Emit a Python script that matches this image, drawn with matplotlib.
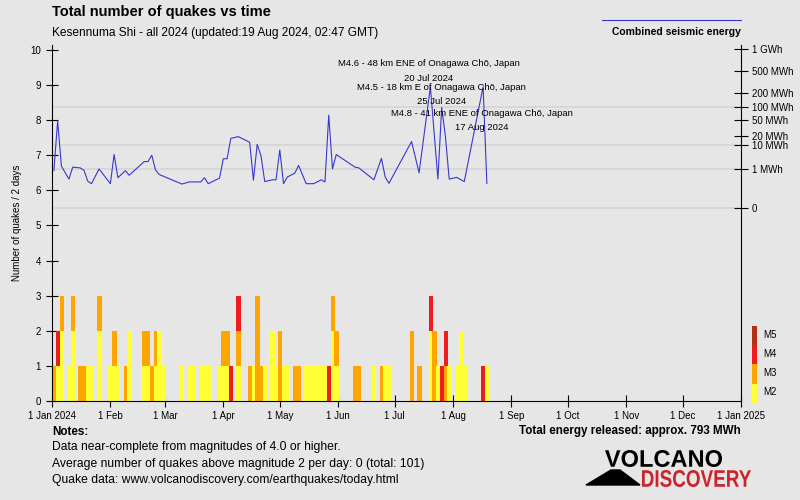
import numpy as np
import matplotlib.pyplot as plt
from matplotlib.lines import Line2D
from matplotlib.patches import Polygon, PathPatch
from matplotlib.textpath import TextPath
from matplotlib.font_manager import FontProperties
from matplotlib.transforms import Affine2D

plt.rcParams['font.family'] = ['Liberation Sans', 'DejaVu Sans']

# quake bins: start day (days since 1 Jan 2024), magnitude classes stacked bottom -> top
bin_days = [0, 2, 4, 8, 10, 14, 16, 18, 20, 24, 30, 32, 34, 38, 40, 48, 50, 52, 54, 56,
            58, 68, 72, 74, 78, 80, 82, 88, 90, 92, 94, 98, 104, 106, 108, 110, 112, 116,
            118, 120, 122, 124, 128, 130, 134, 136, 138, 140, 142, 144, 146, 148, 150,
            160, 162, 170, 174, 176, 178, 190, 194, 200, 202, 204, 206, 208, 210, 214,
            216, 218, 228, 230]
bin_mags = ["3", "24", "223", "2", "223", "3", "3", "2", "2", "223", "2", "23", "2", "3", "22",
            "23", "23", "3", "23", "22", "2", "2", "2", "2", "2", "2", "2", "2", "23", "23",
            "4", "234", "3", "2", "333", "3", "2", "22", "2", "33", "2", "2", "3", "3", "2",
            "2", "2", "2", "2", "2", "4", "223", "23", "3", "3", "2", "3", "2", "2", "33",
            "3", "224", "33", "2", "4", "34", "2", "2", "22", "2", "4", "2"]

# combined seismic energy line (in left-axis units)
energy_days = [1, 3, 5, 9, 11, 15, 17, 19, 21, 25, 31, 33, 35, 39, 41, 49, 51, 53, 55, 57,
               69, 73, 79, 81, 83, 89, 91, 93, 95, 99, 105, 107, 109, 111, 113, 117, 119,
               121, 123, 125, 129, 131, 135, 139, 143, 145, 147, 149, 151, 161, 163, 171,
               175, 177, 179, 191, 195, 201, 205, 207, 209, 211, 215, 219, 229, 231]
energy_vals = [6.56, 7.98, 6.69, 6.32, 6.66, 6.64, 6.57, 6.26, 6.19, 6.61, 6.19, 7.02, 6.36,
               6.56, 6.43, 6.82, 6.82, 7.0, 6.58, 6.45, 6.18, 6.24, 6.24, 6.36, 6.19, 6.35,
               6.9, 6.9, 7.48, 7.53, 7.37, 6.29, 7.31, 6.99, 6.25, 6.30, 6.30, 7.15, 6.19,
               6.38, 6.49, 6.71, 6.19, 6.19, 6.30, 6.24, 8.14, 6.61, 7.02, 6.66, 6.64, 6.30,
               6.91, 6.38, 6.20, 7.39, 6.50, 8.95, 6.32, 8.36, 7.53, 6.32, 6.37, 6.25, 8.95,
               6.20]

energy_labels = ['1 GWh', '500 MWh', '200 MWh', '100 MWh', '50 MWh', '20 MWh', '10 MWh',
                 '1 MWh', '0']
energy_pos = [10.03, 9.40, 8.77, 8.38, 8.01, 7.55, 7.29, 6.61, 5.50]
grid_labels = ['100 MWh', '10 MWh', '1 MWh', '0']

events = [(200.2, 9.6, 'M4.6 - 48 km ENE of Onagawa Chō, Japan', '20 Jul 2024'),
          (207.0, 8.92, 'M4.5 - 18 km E of Onagawa Chō, Japan', '25 Jul 2024'),
          (228.4, 8.2, 'M4.8 - 41 km ENE of Onagawa Chō, Japan', '17 Aug 2024')]

mag_colors = {'2': '#ffff33', '3': '#ffa500', '4': '#ee1c1c', '5': '#b03018'}
bg = '#e6e6e6'

fig = plt.figure(figsize=(8, 5), dpi=100, facecolor=bg)
ax = fig.add_axes([0.065, 0.198, 0.86125, 0.712])
ax.set_facecolor(bg)

for lab, pos in zip(energy_labels, energy_pos):
    if lab in grid_labels:
        ax.axhline(pos, color='#d6d6d6', lw=1.3, zorder=0)

for d, seq in zip(bin_days, bin_mags):
    for k, m in enumerate(seq):
        ax.bar(d, 1, bottom=k, width=2.3, align='edge', color=mag_colors[m], lw=0, zorder=2)

ax.plot(energy_days, energy_vals, color='#3838cc', lw=0.8, zorder=3)

for x, y, t1, t2 in events:
    ax.text(x, y, t1, ha='center', va='center', fontsize=6.8, zorder=4)
    ax.text(x, y - 0.4, t2, ha='center', va='center', fontsize=6.8, zorder=4)

ax.set_xlim(0, 366)
ax.set_ylim(0, 10.14)
ax.set_yticks(range(0, 11))
ax.tick_params(axis='y', direction='inout', length=8, labelsize=7, pad=4)

start = np.datetime64('2024-01-01')
months = np.arange(np.datetime64('2024-01'), np.datetime64('2025-02'), dtype='datetime64[M]')
mdays = (months.astype('datetime64[D]') - start).astype(int)
mlabels = [f"1 {m.astype(object).strftime('%b')}" for m in months]
mlabels[0] = '1 Jan 2024'
mlabels[-1] = '1 Jan 2025'
ax.set_xticks(mdays)
ax.set_xticklabels(mlabels)
ax.tick_params(axis='x', direction='inout', length=8, labelsize=7, pad=3)
ax.spines['top'].set_visible(False)
ax.spines['right'].set_visible(False)
ax.set_ylabel('Number of quakes / 2 days', fontsize=7, labelpad=6)

ax2 = ax.twinx()
ax2.set_ylim(ax.get_ylim())
ax2.set_yticks(energy_pos)
ax2.set_yticklabels(energy_labels)
ax2.tick_params(axis='y', direction='inout', length=10, labelsize=7, pad=3)
for s in ['top', 'left', 'bottom']:
    ax2.spines[s].set_visible(False)

# magnitude colour key
lax = fig.add_axes([752 / 800, (500 - 402.7) / 500, 5 / 800, 76.7 / 500])
for i, m in enumerate(['2', '3', '4', '5']):
    lax.bar(0, 1, bottom=i, width=1, color=mag_colors[m], lw=0)
lax.set_xlim(-0.5, 0.5)
lax.set_ylim(0, 4)
lax.axis('off')
for i, m in enumerate(['2', '3', '4', '5']):
    fig.text(763 / 800, (500 - 392 + 19 * i) / 500, f'M{m}', fontsize=7, va='center')

fig.text(52 / 800, (500 - 12) / 500, 'Total number of quakes vs time', fontsize=10.5,
         fontweight='bold', va='center')
fig.text(52 / 800, (500 - 33) / 500, 'Kesennuma Shi - all 2024 (updated:19 Aug 2024, 02:47 GMT)',
         fontsize=8.6, va='center')
fig.add_artist(Line2D([602 / 800, 741 / 800], [480 / 500, 480 / 500], color='#3333cc', lw=0.8))
fig.text(741 / 800, (500 - 32) / 500, 'Combined seismic energy', fontsize=7.5,
         fontweight='bold', ha='right', va='center')

fig.text(52 / 800, (500 - 432) / 500, 'Notes:', fontsize=8.4, fontweight='bold', va='center')
notes = ['Data near-complete from magnitudes of 4.0 or higher.',
         'Average number of quakes above magnitude 2 per day: 0 (total: 101)',
         'Quake data: www.volcanodiscovery.com/earthquakes/today.html']
for i, n in enumerate(notes):
    fig.text(52 / 800, (500 - 447 - 16.5 * i) / 500, n, fontsize=8.7, va='center')
fig.text(741 / 800, (500 - 431) / 500, 'Total energy released: approx. 793 MWh', fontsize=8.4,
         fontweight='bold', ha='right', va='center')


# logo: text squeezed into a pixel box (x0, y0 top-left in image pixels)
def logo_word(word, x0, x1, ytop, ybot, color):
    tp = TextPath((0, 0), word, size=20, prop=FontProperties(family='Liberation Sans',
                                                             weight='bold'))
    ext = tp.get_extents()
    sx = (x1 - x0) / ext.width
    sy = (ybot - ytop) / ext.height
    tr = Affine2D().translate(-ext.x0, -ext.y0).scale(sx, sy).translate(x0, 500 - ybot)
    fig.add_artist(PathPatch(tp, transform=tr, color=color, lw=0))


fig.add_artist(Polygon([(586 / 800, 15 / 500), (611 / 800, 30 / 500), (620 / 800, 30 / 500),
                        (640 / 800, 15 / 500)], closed=True, color='black',
                       transform=fig.transFigure))
logo_word('VOLCANO', 605, 722, 450, 467, 'black')
logo_word('DISCOVERY', 642, 751, 470, 487, '#cc2229')

fig.savefig('out.png', dpi=100, facecolor=bg)
